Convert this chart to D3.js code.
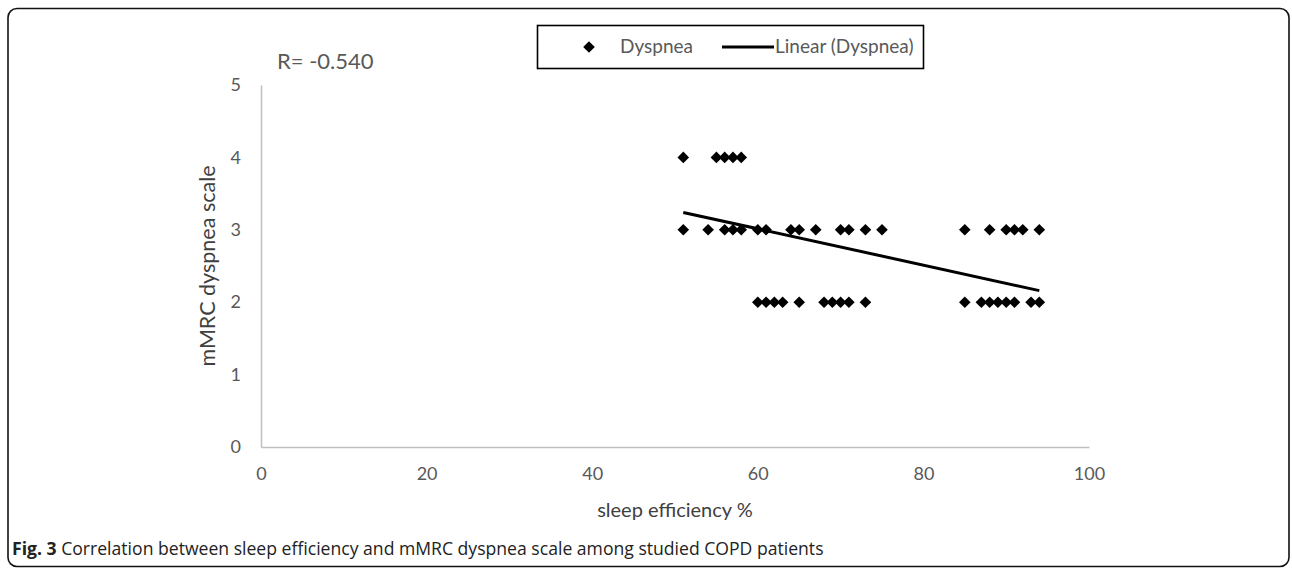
<!DOCTYPE html>
<html><head><meta charset="utf-8">
<script src="https://cdn.jsdelivr.net/npm/d3@7"></script>
<style>
html,body{margin:0;padding:0;background:#fff;}
svg{display:block;}
</style></head>
<body>
<svg id="chart" width="1292" height="569"></svg>
<script>
// Sleep efficiency (%) and mMRC dyspnea scale
const sleepEfficiency = [51,55,56,57,58,
  51,54,56,57,58,60,61,64,65,67,70,71,73,75,85,88,90,91,92,94,
  60,61,62,63,65,68,69,70,71,73,85,87,88,89,90,91,93,94];
const dyspnea = [4,4,4,4,4,
  3,3,3,3,3,3,3,3,3,3,3,3,3,3,3,3,3,3,3,3,
  2,2,2,2,2,2,2,2,2,2,2,2,2,2,2,2,2,2];
// Linear trend line endpoints (as drawn)
const trendX = [51, 94];
const trendY = [3.24, 2.16];
const xTicks = [0,20,40,60,80,100];
const yTicks = [0,1,2,3,4,5];
const rText = "R= -0.540";
const xTitle = "sleep efficiency %";
const yTitle = "mMRC dyspnea scale";
const legendLabels = ["Dyspnea", "Linear (Dyspnea)"];

const svg = d3.select("#chart");
const font = "Lato, 'Open Sans', sans-serif";

// outer rounded frame
svg.append("rect").attr("x",8).attr("y",8.5).attr("width",1281).attr("height",558)
  .attr("rx",9).attr("fill","none").attr("stroke","#111").attr("stroke-width",1.6);

const x = d3.scaleLinear().domain([0,100]).range([261,1089]);
const y = d3.scaleLinear().domain([0,5]).range([447,85]);

// axes
const xAxis = d3.axisBottom(x).tickValues(xTicks).tickFormat(d3.format("d")).tickSize(0).tickPadding(20);
const gx = svg.append("g").attr("transform",`translate(0,${y(0)})`).call(xAxis);
gx.select(".domain").attr("stroke","#bfbfbf").attr("stroke-width",1.5);
gx.selectAll("text").attr("font-family",font).attr("font-size",18).attr("fill","#595959");

const yAxis = d3.axisLeft(y).tickValues(yTicks).tickFormat(d3.format("d")).tickSize(0).tickPadding(20);
const gy = svg.append("g").attr("transform",`translate(${x(0)},0)`).call(yAxis);
gy.select(".domain").attr("stroke","#bfbfbf").attr("stroke-width",1.5);
gy.selectAll("text").attr("font-family",font).attr("font-size",18).attr("fill","#595959");

// trend line
svg.append("line")
  .attr("x1",x(trendX[0])).attr("y1",y(trendY[0]))
  .attr("x2",x(trendX[1])).attr("y2",y(trendY[1]))
  .attr("stroke","#000").attr("stroke-width",3);

// points
const diamond = "M0,-5.8L5.8,0L0,5.8L-5.8,0Z";
svg.append("g").selectAll("path").data(sleepEfficiency.map((v,i)=>[v,dyspnea[i]]))
  .join("path").attr("d",diamond)
  .attr("transform",d=>`translate(${x(d[0])},${y(d[1])})`)
  .attr("fill","#000");

// axis titles
svg.append("text").attr("x",(x(0)+x(100))/2).attr("y",517)
  .attr("text-anchor","middle").attr("font-family",font).attr("font-size",20)
  .attr("fill","#404040").text(xTitle);
svg.append("text").attr("transform",`translate(215,${(y(0)+y(5))/2}) rotate(-90)`)
  .attr("text-anchor","middle").attr("font-family",font).attr("font-size",21.5)
  .attr("fill","#404040").text(yTitle);

// R annotation
svg.append("text").attr("x",277).attr("y",69).attr("font-family",font).attr("font-size",22)
  .attr("fill","#595959").text(rText);

// legend
const lg = svg.append("g");
lg.append("rect").attr("x",537.5).attr("y",25.5).attr("width",386).attr("height",43)
  .attr("fill","#fff").attr("stroke","#000").attr("stroke-width",1.6);
lg.append("path").attr("d",diamond).attr("transform","translate(589,47)").attr("fill","#000");
lg.append("text").attr("x",620).attr("y",53).attr("font-family",font).attr("font-size",19)
  .attr("fill","#595959").text(legendLabels[0]);
lg.append("line").attr("x1",722).attr("x2",774).attr("y1",47).attr("y2",47)
  .attr("stroke","#000").attr("stroke-width",3);
lg.append("text").attr("x",775).attr("y",53).attr("font-family",font).attr("font-size",19)
  .attr("fill","#595959").text(legendLabels[1]);

// caption
const cap = svg.append("text").attr("x",12).attr("y",555)
  .attr("font-family","'Open Sans', 'Noto Sans', sans-serif").attr("font-size",17.6).attr("fill","#222");
cap.append("tspan").attr("font-weight","bold").text("Fig. 3");
cap.append("tspan").text(" Correlation between sleep efficiency and mMRC dyspnea scale among studied COPD patients");
</script>
</body></html>
